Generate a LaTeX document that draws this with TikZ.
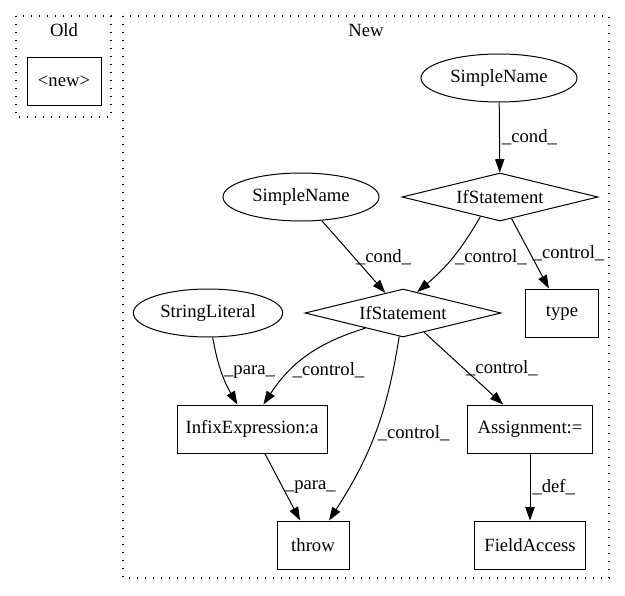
\documentclass[tikz,border=0pt]{standalone}
\usepackage{fontspec}
\setmainfont{Liberation Serif}
\usetikzlibrary{arrows.meta}
\usetikzlibrary{shapes.geometric}

\begin{document}
\begin{tikzpicture}[x=0.75pt,y=0.75pt,yscale=-1,xscale=1,
  every node/.style={font=\fontsize{14}{16}\selectfont},
  box/.style={draw,line width=0.75pt,minimum height=36pt,inner sep=0pt},
  oval/.style={draw,ellipse,line width=0.75pt,minimum height=36pt,inner sep=0pt},
  cond/.style={draw,diamond,aspect=4,line width=0.75pt,minimum width=147pt,minimum height=36pt,inner sep=0pt},
  flow/.style={line width=0.75pt,-{Triangle[length=10pt,width=7pt]}},
  lbl/.style={right,inner sep=1.5pt},
  cluster/.style={line width=0.8pt,dash pattern={on 1pt off 5pt}}]
\useasboundingbox (0,0) rectangle (625,596);

%Shape: Rectangle [cluster Old]
\draw [cluster] (16,16) rectangle (111,117);
%Shape: Rectangle [cluster New]
\draw [cluster] (123,16) rectangle (609,578);

% Text Node
\node (old) at (64,30) {Old};
% Text Node
\node (new) at (366,30) {New};

% Old side
\node [box,minimum width=55.5pt] (newop) at (64,81) {<new>};

% New side
\node [oval,minimum width=117pt] (sn1) at (499,78) {SimpleName};
\node [cond] (if1) at (500,197) {IfStatement};
\node [oval,minimum width=117pt] (sn2) at (301,197) {SimpleName};
\node [cond] (if2) at (403,313) {IfStatement};
\node [box,minimum width=55pt] (type) at (562,313) {type};
\node [oval,minimum width=112pt] (str) at (208,313) {StringLiteral};
\node [box,minimum width=112.5pt] (infix) at (252,429) {InfixExpression:a};
\node [box,minimum width=94pt] (assign) at (530,429) {Assignment:=};
\node [box,minimum width=54pt] (throw) at (313,545) {throw};
\node [box,minimum width=83pt] (field) at (530,545) {FieldAccess};

%Straight Lines
\draw [flow] (sn1) -- (if1) node [lbl,pos=0.5] {\_cond\_};
\draw [flow] (sn2) -- (if2) node [lbl,pos=0.5] {\_cond\_};
\draw [flow] (if1.225) to [bend right=10] node [lbl,pos=0.5] {\_control\_} (if2.56);
\draw [flow] (if1) -- (type) node [lbl,pos=0.5] {\_control\_};
\draw [flow] (str) to [bend left=10] node [lbl,pos=0.5] {\_para\_} (infix);
\draw [flow] (if2.202) to [bend left=20] node [lbl,pos=0.68] {\_control\_} (infix.65);
\draw [flow] (if2) to [bend right=12] node [lbl,pos=0.5] {\_control\_} (throw);
\draw [flow] (if2) -- (assign) node [lbl,pos=0.5] {\_control\_};
\draw [flow] (infix) -- (throw) node [lbl,pos=0.5] {\_para\_};
\draw [flow] (assign) -- (field) node [lbl,pos=0.5] {\_def\_};

\end{tikzpicture}
\end{document}
